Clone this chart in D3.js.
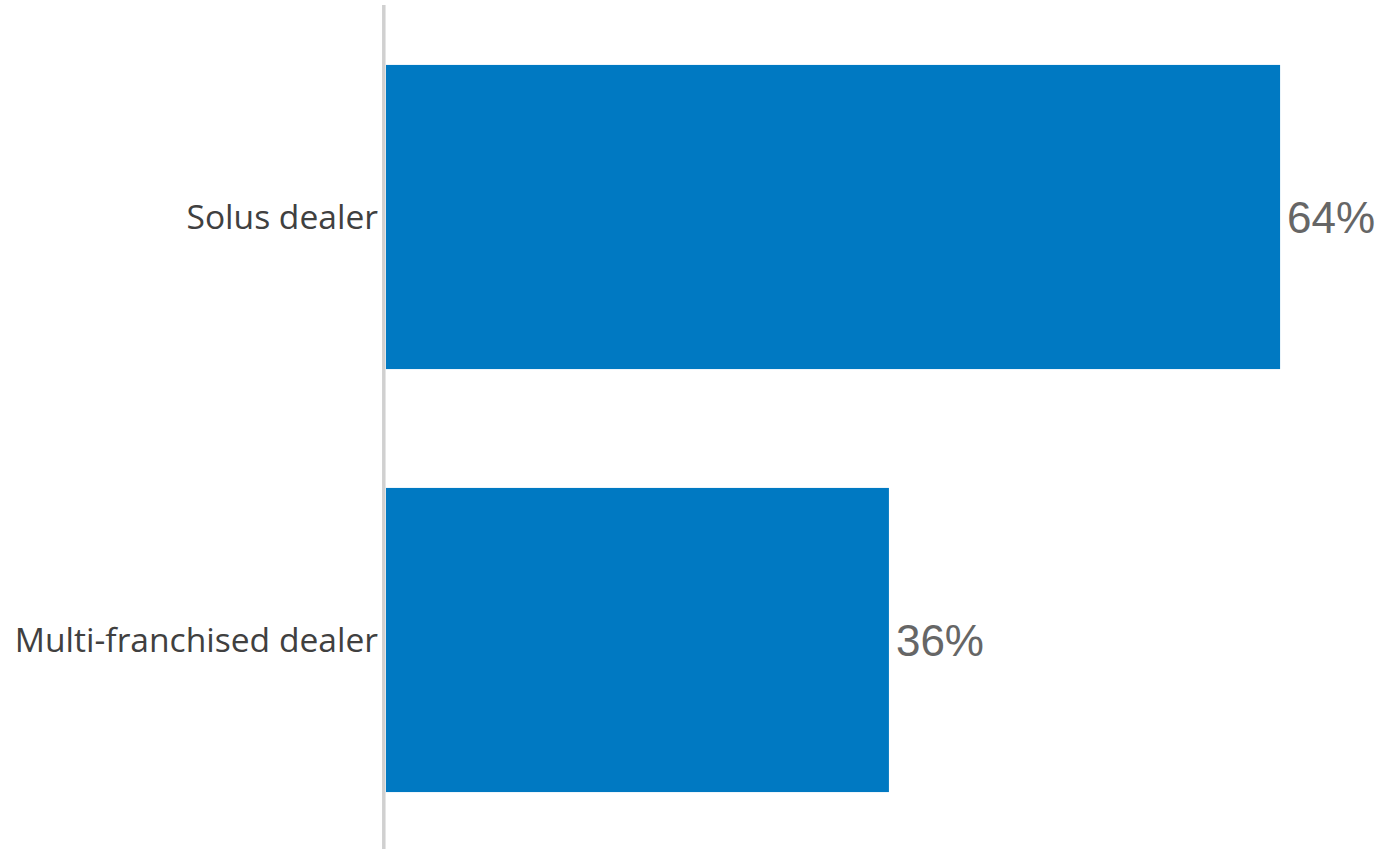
<!DOCTYPE html>
<html>
<head>
<meta charset="utf-8">
<script src="https://cdn.jsdelivr.net/npm/d3@7"></script>
<style>
  html, body { margin: 0; padding: 0; background: #fff; }
  svg { display: block; }
</style>
</head>
<body>
<svg id="chart" width="1385" height="849"></svg>
<script>
// Dealer type share
const categories = ["Solus dealer", "Multi-franchised dealer"];
const values = [64, 36];

const width = 1385, height = 849;
const svg = d3.select("#chart");

const x = d3.scaleLinear().domain([0, 100]).range([386, 386 + 1397]);
const y = d3.scaleBand().domain(categories).range([5.5, 851.5])
  .paddingInner(0.281).paddingOuter(0.1405);

// bars
svg.selectAll("rect.bar").data(categories).join("rect")
  .attr("class", "bar")
  .attr("x", x(0))
  .attr("y", d => y(d))
  .attr("width", (d, i) => x(values[i]) - x(0))
  .attr("height", y.bandwidth())
  .attr("fill", "#0079C2");

// category axis line
svg.append("line")
  .attr("x1", 383.8).attr("x2", 383.8)
  .attr("y1", 5).attr("y2", height)
  .attr("stroke", "#D0D0D0").attr("stroke-width", 3.5);

// category labels
svg.selectAll("text.cat").data(categories).join("text")
  .attr("class", "cat")
  .attr("x", 378)
  .attr("y", d => y(d) + y.bandwidth() / 2)
  .attr("dy", "0.35em")
  .attr("text-anchor", "end")
  .attr("font-family", "'Open Sans', 'Noto Sans', sans-serif")
  .attr("font-size", 33.6)
  .attr("fill", "#404040")
  .text(d => d);

// value labels
svg.selectAll("text.val").data(categories).join("text")
  .attr("class", "val")
  .attr("x", (d, i) => x(values[i]) + 7)
  .attr("y", d => y(d) + y.bandwidth() / 2)
  .attr("dy", "0.36em")
  .attr("font-family", "'Liberation Sans', Arial, sans-serif")
  .attr("font-size", 44)
  .attr("fill", "#666666")
  .text((d, i) => values[i] + "%");
</script>
</body>
</html>
